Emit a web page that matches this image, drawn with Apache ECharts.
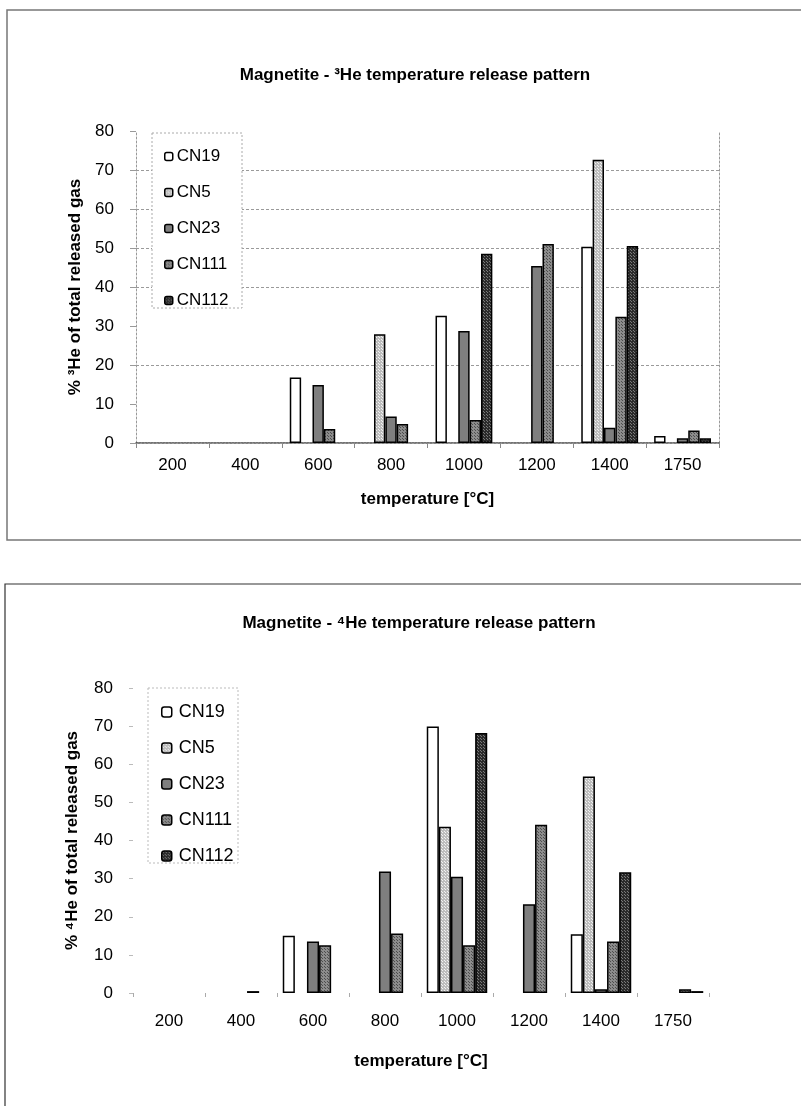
<!DOCTYPE html>
<html>
<head>
<meta charset="utf-8">
<script src="https://cdn.jsdelivr.net/npm/echarts@6/dist/echarts.min.js"></script>
<style>
  html, body { margin: 0; padding: 0; background: #fff; }
  #chart { width: 801px; height: 1106px; }
</style>
</head>
<body>
<div id="chart"></div>
<script>
// Heating steps (°C)
const categories = ['200', '400', '600', '800', '1000', '1200', '1400', '1750'];
const sampleNames = ['CN19', 'CN5', 'CN23', 'CN111', 'CN112'];

// % of total released 3He per heating step
const he3CN19  = [null, null, 16.8, null, 32.6, null, 50.3, 1.8];
const he3CN5   = [null, null, null, 27.9, null, null, 72.6, null];
const he3CN23  = [null, null, 14.9, 6.8, 28.7, 45.4, 3.9, 1.2];
const he3CN111 = [null, null, 3.6, 4.9, 5.9, 51.0, 32.4, 3.2];
const he3CN112 = [null, null, null, null, 48.5, null, 50.5, 1.2];

// % of total released 4He per heating step
const he4CN19  = [null, null, 15.0, null, 69.9, null, 15.4, null];
const he4CN5   = [null, null, null, null, 43.6, null, 56.8, null];
const he4CN23  = [null, null, 13.5, 31.9, 30.5, 23.3, 1.0, null];
const he4CN111 = [null, 0.5, 12.5, 15.6, 12.5, 44.1, 13.5, 1.0];
const he4CN112 = [null, null, null, null, 68.2, null, 31.7, 0.5];

// horizontal reference lines of the 3He panel
const he3GridValues = [20, 40, 50, 60, 70];

const FONT = 'Liberation Sans, Arial, sans-serif';

// small repeating fills for the hatched bars
function pattern(base, dot, step) {
  const c = document.createElement('canvas');
  c.width = step; c.height = step;
  const g = c.getContext('2d');
  g.fillStyle = base; g.fillRect(0, 0, step, step);
  g.fillStyle = dot; g.fillRect(0, 0, 1, 1);
  g.fillRect(Math.floor(step / 2), Math.floor(step / 2), 1, 1);
  return { image: c, repeat: 'repeat' };
}

const fills = [
  '#ffffff',
  pattern('#bdbdbd', '#f2f2f2', 3),
  '#7f7f7f',
  pattern('#8c8c8c', '#4d4d4d', 3),
  pattern('#2b2b2b', '#7a7a7a', 3)
];

const he3Data = [he3CN19, he3CN5, he3CN23, he3CN111, he3CN112];
const he4Data = [he4CN19, he4CN5, he4CN23, he4CN111, he4CN112];

function barSeries(dataSets, axisIndex, gap) {
  return dataSets.map((vals, i) => ({
    name: sampleNames[i],
    type: 'bar',
    xAxisIndex: axisIndex,
    yAxisIndex: axisIndex,
    data: vals,
    barGap: '0%',
    barCategoryGap: gap,
    z: 2,
    itemStyle: { color: fills[i], borderColor: '#000', borderWidth: 1.5 },
    emphasis: { disabled: true }
  }));
}

const series = barSeries(he3Data, 0, '22%').concat(barSeries(he4Data, 1, '16%'));
series[0].markLine = {
  silent: true,
  z: 1,
  symbol: 'none',
  label: { show: false },
  lineStyle: { color: '#9a9a9a', type: [3, 2], width: 1 },
  data: he3GridValues.map(v => ({ yAxis: v }))
};

const tickLabel = { fontFamily: FONT, fontSize: 17, color: '#000' };
const nameStyle = { fontFamily: FONT, fontSize: 17, fontWeight: 'bold', color: '#000' };

const option = {
  animation: false,
  backgroundColor: '#fff',
  title: [
    {
      text: 'Magnetite - \u00B3He temperature release pattern',
      left: 410, top: 62, textAlign: 'center',
      textStyle: { fontFamily: FONT, fontSize: 17, fontWeight: 'bold', color: '#000' }
    },
    {
      text: 'Magnetite - \u2074He temperature release pattern',
      left: 414, top: 610, textAlign: 'center',
      textStyle: { fontFamily: FONT, fontSize: 17, fontWeight: 'bold', color: '#000' }
    }
  ],
  legend: [
    {
      data: sampleNames, orient: 'vertical', left: 159, top: 143,
      itemWidth: 8, itemHeight: 8, itemGap: 19, itemStyle: { borderColor: '#000', borderWidth: 1.5 },
      textStyle: { fontFamily: FONT, fontSize: 17, color: '#000', padding: [0, 0, 0, -1] },
      selectedMode: false
    },
    {
      data: sampleNames, orient: 'vertical', left: 156, top: 698,
      itemWidth: 10, itemHeight: 10, itemGap: 18, itemStyle: { borderColor: '#000', borderWidth: 1.5 },
      textStyle: { fontFamily: FONT, fontSize: 18, color: '#000', padding: [0, 0, 0, 2] },
      selectedMode: false
    }
  ],
  grid: [
    { left: 136, top: 131, width: 583, height: 312 },
    { left: 133, top: 688, width: 576, height: 305 }
  ],
  xAxis: [
    {
      type: 'category', gridIndex: 0, data: categories,
      name: 'temperature [\u00B0C]', nameLocation: 'middle', nameGap: 48, nameTextStyle: nameStyle,
      axisLine: { lineStyle: { color: '#444', width: 1.5, type: [2, 1] } },
      axisTick: { show: true, length: 5, lineStyle: { color: '#888' } },
      axisLabel: Object.assign({ margin: 14 }, tickLabel)
    },
    {
      type: 'category', gridIndex: 1, data: categories,
      name: 'temperature [\u00B0C]', nameLocation: 'middle', nameGap: 60, nameTextStyle: nameStyle,
      axisLine: { show: false },
      axisTick: { show: true, length: 4, lineStyle: { color: '#aaa' } },
      axisLabel: Object.assign({ margin: 20 }, tickLabel)
    },
    {
      type: 'category', gridIndex: 0, position: 'top', data: categories,
      axisLine: { lineStyle: { color: '#999', type: [2, 2] } },
      axisTick: { show: false }, axisLabel: { show: false }
    }
  ],
  yAxis: [
    {
      type: 'value', gridIndex: 0, min: 0, max: 80, interval: 10,
      name: '% \u00B3He of total released gas', nameLocation: 'middle', nameGap: 45, nameTextStyle: nameStyle,
      axisLine: { show: true, lineStyle: { color: '#999', type: [2, 2] } },
      axisTick: { show: true, length: 6, lineStyle: { color: '#999' } },
      splitLine: { show: false },
      axisLabel: Object.assign({ margin: 22 }, tickLabel)
    },
    {
      type: 'value', gridIndex: 1, min: 0, max: 80, interval: 10,
      name: '% \u2074He of total released gas', nameLocation: 'middle', nameGap: 52, nameTextStyle: nameStyle,
      axisLine: { show: false },
      axisTick: { show: true, length: 4, lineStyle: { color: '#bbb' } },
      splitLine: { show: false },
      axisLabel: Object.assign({ margin: 20 }, tickLabel)
    },
    {
      type: 'value', gridIndex: 0, position: 'right', min: 0, max: 80, interval: 10,
      axisLine: { show: true, lineStyle: { color: '#999', type: [2, 2] } },
      axisTick: { show: false }, axisLabel: { show: false }, splitLine: { show: false }
    }
  ],
  graphic: [
    // outer frames of the two panels
    { type: 'rect', z: 0, silent: true, shape: { x: 7, y: 10, width: 800, height: 530 },
      style: { fill: 'none', stroke: '#777', lineWidth: 1.5 } },
    { type: 'rect', z: 0, silent: true, shape: { x: 5, y: 584, width: 800, height: 540 },
      style: { fill: 'none', stroke: '#333', lineWidth: 1.2 } },
    // legend boxes
    { type: 'rect', z: 3, silent: true, shape: { x: 152, y: 133, width: 90, height: 175 },
      style: { fill: '#fff', stroke: '#aaa', lineWidth: 1, lineDash: [2, 2] } },
    { type: 'rect', z: 3, silent: true, shape: { x: 148, y: 688, width: 90, height: 175 },
      style: { fill: '#fff', stroke: '#bbb', lineWidth: 1, lineDash: [2, 2] } }
  ],
  series: series
};

const chart = echarts.init(document.getElementById('chart'), null, { renderer: 'canvas' });
chart.setOption(option);
</script>
</body>
</html>
